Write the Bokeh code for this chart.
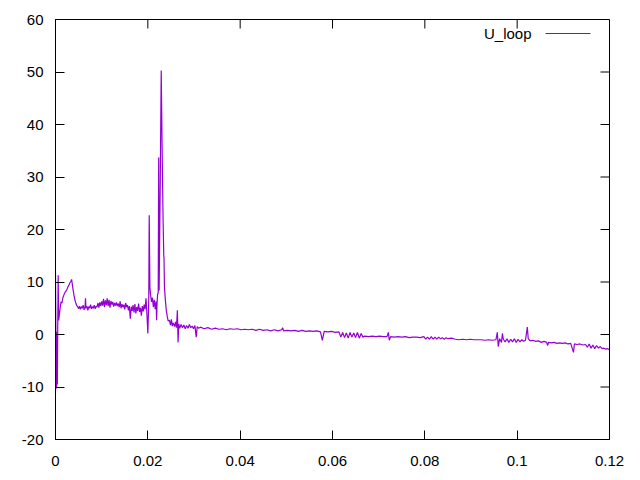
from bokeh.plotting import figure
from bokeh.models import Range1d, FixedTicker, Label, BoxAnnotation, ColumnDataSource
from bokeh.embed import file_html
from bokeh.resources import INLINE

series_name = "U_loop"

time_s = [
    0.0, 0.00008, 0.00012, 0.00025, 0.00035, 0.0004, 0.00048, 0.00058, 0.00068, 0.0008,
    0.001, 0.0012, 0.0014, 0.0016, 0.0018, 0.0021, 0.0024, 0.0027, 0.0029, 0.0031,
    0.0033, 0.0035, 0.0036, 0.0038, 0.004, 0.0042, 0.0044, 0.0046, 0.0048, 0.005,
    0.0052, 0.0054, 0.0056, 0.0058, 0.006, 0.0062, 0.0064, 0.0065, 0.0066, 0.0068,
    0.007, 0.0072, 0.0074, 0.0076, 0.0078, 0.008, 0.0082, 0.0084, 0.0086, 0.0088,
    0.009, 0.0092, 0.0094, 0.0096, 0.0098, 0.01, 0.0102, 0.0104, 0.0106, 0.0108,
    0.011, 0.0112, 0.0114, 0.0116, 0.0118, 0.012, 0.0122, 0.0124, 0.0126, 0.0128,
    0.013, 0.0132, 0.0134, 0.0136, 0.0138, 0.014, 0.0142, 0.0144, 0.0146, 0.0148,
    0.015, 0.0152, 0.0154, 0.0156, 0.0158, 0.016, 0.0162, 0.0164, 0.0166, 0.0168,
    0.017, 0.0172, 0.0174, 0.0176, 0.0178, 0.018, 0.0182, 0.0184, 0.0186, 0.0188,
    0.019, 0.0192, 0.0194, 0.0196, 0.0198, 0.02, 0.0202, 0.0203, 0.02045, 0.0206,
    0.0208, 0.021, 0.0212, 0.0214, 0.0216, 0.0218, 0.0219, 0.022, 0.0221, 0.02225,
    0.02235, 0.02245, 0.0227, 0.0229, 0.0231, 0.0233, 0.02345, 0.0235, 0.0236, 0.0238,
    0.024, 0.0242, 0.0244, 0.0247, 0.0249, 0.0251, 0.0253, 0.0255, 0.0258, 0.026,
    0.0262, 0.0264, 0.02655, 0.0267, 0.0269, 0.0272, 0.0275, 0.0278, 0.0281, 0.0284,
    0.0287, 0.029, 0.0293, 0.0296, 0.0299, 0.0302, 0.03048, 0.0307, 0.031, 0.0314,
    0.0322, 0.033, 0.0338, 0.0346, 0.0354, 0.0362, 0.037, 0.0378, 0.0386, 0.0394,
    0.0402, 0.041, 0.0418, 0.0426, 0.0434, 0.0442, 0.045, 0.0458, 0.0466, 0.0474,
    0.0482, 0.049, 0.0492, 0.0494, 0.0502, 0.051, 0.0518, 0.0526, 0.0534, 0.0542,
    0.055, 0.0558, 0.0566, 0.0574, 0.0578, 0.0582, 0.059, 0.0598, 0.0606, 0.0614,
    0.0618, 0.0622, 0.0626, 0.063, 0.0634, 0.0638, 0.0642, 0.0646, 0.065, 0.0654,
    0.0658, 0.0662, 0.0666, 0.067, 0.0678, 0.0686, 0.0694, 0.0702, 0.071, 0.0718,
    0.0721, 0.0723, 0.0726, 0.0734, 0.0742, 0.075, 0.0758, 0.0766, 0.0774, 0.0782,
    0.079, 0.0798, 0.0802, 0.0806, 0.081, 0.0814, 0.0818, 0.0822, 0.0826, 0.083,
    0.0834, 0.0838, 0.0842, 0.0846, 0.085, 0.0858, 0.0866, 0.0874, 0.0882, 0.089,
    0.0898, 0.0906, 0.0914, 0.0922, 0.093, 0.0938, 0.0946, 0.0954, 0.0957, 0.0959,
    0.0962, 0.0966, 0.0968, 0.097, 0.0974, 0.0978, 0.0982, 0.0986, 0.099, 0.0994,
    0.0998, 0.1002, 0.1006, 0.101, 0.1014, 0.1018, 0.1022, 0.1024, 0.1028, 0.1034,
    0.104, 0.1046, 0.1052, 0.1058, 0.1064, 0.1066, 0.1068, 0.1074, 0.108, 0.1086,
    0.1092, 0.1098, 0.1104, 0.111, 0.1116, 0.1122, 0.1124, 0.113, 0.1136, 0.1142,
    0.1148, 0.1152, 0.1156, 0.116, 0.1164, 0.1168, 0.1172, 0.1176, 0.118, 0.1184,
    0.1188, 0.1192, 0.1196, 0.12,
]

u_loop = [
    11.8, 0.6, -10.3, -10.0, 0.5, -9.5, 0.8, 11.3, 2.7, 3.5,
    5.0, 6.2, 6.0, 7.0, 7.5, 8.1, 8.4, 9.1, 9.4, 9.8,
    10.1, 10.5, 9.8, 8.6, 7.5, 6.6, 6.0, 5.5, 5.3, 4.9,
    5.4, 4.8, 5.3, 5.0, 5.6, 4.7, 5.2, 6.9, 5.0, 5.4,
    4.6, 5.3, 5.0, 5.7, 4.9, 5.3, 5.0, 5.6, 4.9, 5.4,
    5.2, 6.0, 5.1, 6.1, 5.4, 6.3, 5.5, 6.8, 5.2, 6.5,
    5.6, 6.9, 5.4, 6.6, 5.1, 6.4, 5.7, 6.2, 5.3, 6.0,
    5.5, 6.1, 5.4, 5.9, 5.2, 6.3, 5.0, 5.8, 5.2, 5.7,
    4.8, 6.0, 5.2, 5.6, 4.6, 5.4, 3.0, 5.3, 4.5, 5.6,
    4.2, 5.8, 4.0, 5.2, 4.5, 5.9, 4.3, 5.1, 3.6, 5.4,
    4.4, 5.7, 4.8, 6.9, 4.0, 0.2, 6.5, 22.7, 9.0, 7.5,
    6.2, 7.0, 5.2, 6.6, 4.8, 6.3, 2.7, 6.0, 7.5, 8.0,
    33.7, 8.4, 30.0, 50.3, 35.0, 22.0, 15.0, 14.7, 9.0, 6.5,
    4.6, 3.5, 2.6, 2.7, 1.8, 2.9, 1.6, 2.2, 1.5, 2.4,
    1.3, 4.6, -1.5, 2.0, 1.2, 1.9, 1.3, 1.8, 1.1, 1.7,
    1.2, 1.9, 1.3, 1.6, 1.1, 1.7, -0.5, 1.5, 1.2, 1.4,
    1.1, 1.3, 1.0, 1.2, 1.0, 1.1, 0.9, 1.1, 1.0, 1.1,
    0.9, 1.0, 0.9, 1.0, 0.8, 1.0, 0.8, 0.9, 0.7, 0.9,
    0.7, 0.9, 1.3, 0.7, 0.8, 0.7, 0.8, 0.6, 0.8, 0.6,
    0.7, 0.6, 0.7, 0.5, -1.1, 0.6, 0.5, 0.6, 0.4, 0.5,
    -0.5, 0.4, -0.6, 0.3, -0.7, 0.4, -0.5, 0.3, -0.6, 0.4,
    -0.7, 0.2, -0.5, -0.3, -0.4, -0.3, -0.4, -0.3, -0.4, -0.4,
    0.4, -1.1, -0.4, -0.5, -0.4, -0.5, -0.4, -0.6, -0.5, -0.5,
    -0.6, -0.4, -0.9, -0.5, -0.9, -0.4, -0.9, -0.5, -0.9, -0.5,
    -0.8, -0.6, -0.9, -0.6, -0.8, -0.7, -0.9, -1.0, -0.9, -1.0,
    -0.9, -1.0, -1.0, -1.0, -1.1, -1.0, -1.1, -1.0, 0.4, -2.3,
    -0.8, -1.5, 0.2, -0.9, -1.4, -0.8, -1.5, -0.9, -1.4, -0.8,
    -1.5, -0.9, -1.4, -1.0, -1.3, -1.1, 1.4, -0.8, -1.2, -1.1,
    -1.3, -1.2, -1.5, -1.3, -1.5, -2.1, -1.5, -1.6, -1.5, -1.7,
    -1.6, -1.7, -1.6, -1.8, -1.7, -3.4, -1.8, -1.9, -1.8, -2.0,
    -1.9, -2.4, -1.8, -2.6, -2.0, -2.7, -2.1, -2.6, -2.3, -2.7,
    -2.6, -2.8, -2.7, -2.9,
]

x_ticks = [0.0, 0.02, 0.04, 0.06, 0.08, 0.1, 0.12]
x_tick_labels = ["0", "0.02", "0.04", "0.06", "0.08", "0.1", "0.12"]
y_ticks = [-20, -10, 0, 10, 20, 30, 40, 50, 60]
y_tick_labels = ["-20", "-10", "0", "10", "20", "30", "40", "50", "60"]

assert len(time_s) == len(u_loop)

LINE_COLOR = "#9400d3"
FONT = "Liberation Sans"
FSIZE = "15px"
TICK_LEN = 9
W, H = 640, 480
BL, BR, BT, BB = 55, 31, 19, 41
X0, X1 = 0.0, 0.12
Y0, Y1 = -20.0, 60.0

p = figure(width=W, height=H, output_backend="svg", toolbar_location=None,
           x_range=Range1d(X0, X1), y_range=Range1d(Y0, Y1),
           min_border_left=BL, min_border_right=BR, min_border_top=BT, min_border_bottom=BB)
p.background_fill_color = "white"
p.border_fill_color = "white"
p.outline_line_color = "black"
p.outline_line_width = 1
p.xgrid.visible = False
p.ygrid.visible = False

src = ColumnDataSource(data=dict(t=time_s, u=u_loop))
p.line("t", "u", source=src, line_color=LINE_COLOR, line_width=1.2)

def style(axis, ticks, labels, standoff):
    axis.ticker = FixedTicker(ticks=ticks)
    axis.major_label_overrides = {k: v for k, v in zip(ticks, labels)}
    axis.axis_line_color = "black"
    axis.axis_line_width = 1
    axis.major_tick_in = TICK_LEN
    axis.major_tick_out = 0
    axis.minor_tick_in = 0
    axis.minor_tick_out = 0
    axis.major_tick_line_color = "black"
    axis.major_label_text_font = FONT
    axis.major_label_text_color = "black"
    axis.major_label_text_font_size = FSIZE
    axis.major_label_standoff = standoff

style(p.xaxis[0], x_ticks, x_tick_labels, 16)
style(p.yaxis[0], y_ticks, y_tick_labels, 12)

# mirrored inward ticks on the top and right borders (gnuplot style)
frame_w = W - BL - BR
frame_h = H - BT - BB
dx = TICK_LEN * (X1 - X0) / frame_w
dy = TICK_LEN * (Y1 - Y0) / frame_h
p.segment(x0=x_ticks, y0=[Y1] * len(x_ticks), x1=x_ticks, y1=[Y1 - dy] * len(x_ticks),
          line_color="black", line_width=1)
p.segment(x0=[X1] * len(y_ticks), y0=y_ticks, x1=[X1 - dx] * len(y_ticks), y1=y_ticks,
          line_color="black", line_width=1)

# key: text followed by a line sample, placed in screen units within the frame
p.add_layout(Label(x=476, y=406, x_units="screen", y_units="screen", text=series_name,
                   text_align="right", text_baseline="middle", text_font=FONT,
                   text_font_size=FSIZE, text_color="black"))
p.add_layout(BoxAnnotation(left=490, right=535, bottom=405.5, top=406.5,
                           left_units="screen", right_units="screen",
                           bottom_units="screen", top_units="screen",
                           fill_color=LINE_COLOR, fill_alpha=1.0, line_alpha=0))

open("out.html", "w").write(file_html(p, INLINE))
